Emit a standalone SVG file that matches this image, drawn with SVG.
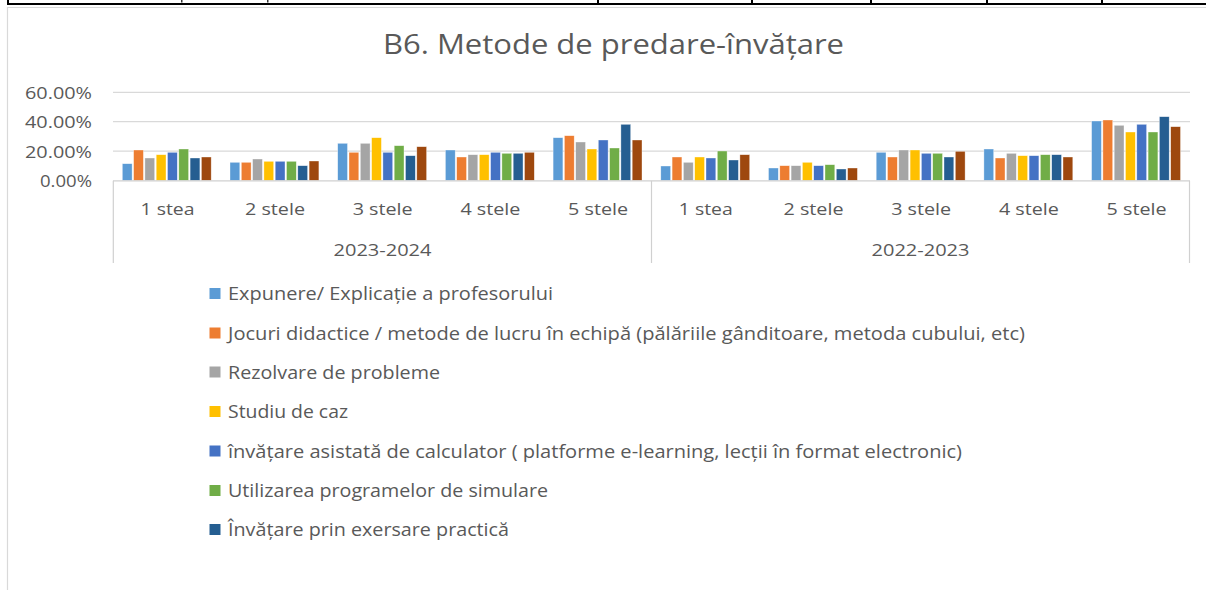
<svg xmlns="http://www.w3.org/2000/svg" width="1206" height="590" viewBox="0 0 1206 590">
<style>
text{font-family:"Open Sans","Noto Sans","Liberation Sans",sans-serif;fill:#595959}
.ttl{font-size:27px}
.ax{font-size:15.5px;text-anchor:end}
.cat{font-size:17px;text-anchor:middle}
.lg{font-size:17.5px}
.grid{stroke:#d9d9d9;stroke-width:1.3;fill:none}
.axis{stroke:#d0d0d0;stroke-width:1.2;fill:none}
.s1{fill:#5b9bd5}.s2{fill:#ed7d31}.s3{fill:#a5a5a5}.s4{fill:#ffc000}
.s5{fill:#4472c4}.s6{fill:#70ad47}.s7{fill:#255e91}.s8{fill:#9e480e}
.bars rect{stroke:#ffffff;stroke-opacity:0.6;stroke-width:0.6}
</style>
<rect x="0" y="0" width="1206" height="590" fill="#ffffff"/>
<g id="table-edge">
<rect x="7" y="3" width="1199" height="2" fill="#000"/>
<rect x="7" y="0" width="2" height="5" fill="#000"/>
<rect x="597" y="0" width="2" height="5" fill="#000"/>
<rect x="751" y="0" width="2" height="5" fill="#000"/>
<rect x="870" y="0" width="2" height="5" fill="#000"/>
<rect x="986" y="0" width="2" height="5" fill="#000"/>
<rect x="1101" y="0" width="2" height="5" fill="#000"/>
<rect x="181" y="0" width="1.5" height="2.5" fill="#333"/>
<rect x="267" y="0" width="1.5" height="2.5" fill="#333"/>
</g>
<g id="frame">
<path d="M7.5 590 V7.5 H1206" stroke="#d9d9d9" stroke-width="1.2" fill="none"/>
</g>
<g id="title">
<text class="ttl" x="383" y="54" textLength="461" lengthAdjust="spacingAndGlyphs">B6. Metode de predare-învățare</text>
</g>
<g id="gridlines">
<line class="grid" x1="113" y1="92.3" x2="1190" y2="92.3"/>
<line class="grid" x1="113" y1="121.7" x2="1190" y2="121.7"/>
<line class="grid" x1="113" y1="151.1" x2="1190" y2="151.1"/>
</g>
<g id="y-axis">
<text class="ax" x="92" y="99" textLength="67" lengthAdjust="spacingAndGlyphs">60.00%</text>
<text class="ax" x="92" y="128.4" textLength="67" lengthAdjust="spacingAndGlyphs">40.00%</text>
<text class="ax" x="92" y="157.8" textLength="67" lengthAdjust="spacingAndGlyphs">20.00%</text>
<text class="ax" x="92" y="187.2" textLength="52" lengthAdjust="spacingAndGlyphs">0.00%</text>
</g>
<g id="bars" class="bars">
<g transform="translate(122.3,0)">
<rect class="s1" x="0" y="163.7" width="9.8" height="16.8"/><rect class="s2" x="11.3" y="150" width="9.8" height="30.5"/><rect class="s3" x="22.6" y="158" width="9.8" height="22.5"/><rect class="s4" x="33.9" y="154.7" width="9.8" height="25.8"/><rect class="s5" x="45.2" y="152.3" width="9.8" height="28.2"/><rect class="s6" x="56.5" y="149" width="9.8" height="31.5"/><rect class="s7" x="67.8" y="158" width="9.8" height="22.5"/><rect class="s8" x="79.1" y="157" width="9.8" height="23.5"/>
</g>
<g transform="translate(230,0)">
<rect class="s1" x="0" y="162.3" width="9.8" height="18.2"/><rect class="s2" x="11.3" y="162.3" width="9.8" height="18.2"/><rect class="s3" x="22.6" y="159" width="9.8" height="21.5"/><rect class="s4" x="33.9" y="161.3" width="9.8" height="19.2"/><rect class="s5" x="45.2" y="161.3" width="9.8" height="19.2"/><rect class="s6" x="56.5" y="161.3" width="9.8" height="19.2"/><rect class="s7" x="67.8" y="165.7" width="9.8" height="14.8"/><rect class="s8" x="79.1" y="161" width="9.8" height="19.5"/>
</g>
<g transform="translate(337.7,0)">
<rect class="s1" x="0" y="143.3" width="9.8" height="37.2"/><rect class="s2" x="11.3" y="152.3" width="9.8" height="28.2"/><rect class="s3" x="22.6" y="143.3" width="9.8" height="37.2"/><rect class="s4" x="33.9" y="137.7" width="9.8" height="42.8"/><rect class="s5" x="45.2" y="152.3" width="9.8" height="28.2"/><rect class="s6" x="56.5" y="145.7" width="9.8" height="34.8"/><rect class="s7" x="67.8" y="155.7" width="9.8" height="24.8"/><rect class="s8" x="79.1" y="146.7" width="9.8" height="33.8"/>
</g>
<g transform="translate(445.4,0)">
<rect class="s1" x="0" y="150" width="9.8" height="30.5"/><rect class="s2" x="11.3" y="157" width="9.8" height="23.5"/><rect class="s3" x="22.6" y="154.7" width="9.8" height="25.8"/><rect class="s4" x="33.9" y="154.7" width="9.8" height="25.8"/><rect class="s5" x="45.2" y="152.3" width="9.8" height="28.2"/><rect class="s6" x="56.5" y="153.3" width="9.8" height="27.2"/><rect class="s7" x="67.8" y="153.3" width="9.8" height="27.2"/><rect class="s8" x="79.1" y="152.3" width="9.8" height="28.2"/>
</g>
<g transform="translate(553.1,0)">
<rect class="s1" x="0" y="137.7" width="9.8" height="42.8"/><rect class="s2" x="11.3" y="135.7" width="9.8" height="44.8"/><rect class="s3" x="22.6" y="142" width="9.8" height="38.5"/><rect class="s4" x="33.9" y="149" width="9.8" height="31.5"/><rect class="s5" x="45.2" y="140" width="9.8" height="40.5"/><rect class="s6" x="56.5" y="148" width="9.8" height="32.5"/><rect class="s7" x="67.8" y="124.3" width="9.8" height="56.2"/><rect class="s8" x="79.1" y="140" width="9.8" height="40.5"/>
</g>
<g transform="translate(660.8,0)">
<rect class="s1" x="0" y="166" width="9.8" height="14.5"/><rect class="s2" x="11.3" y="157" width="9.8" height="23.5"/><rect class="s3" x="22.6" y="162.3" width="9.8" height="18.2"/><rect class="s4" x="33.9" y="157" width="9.8" height="23.5"/><rect class="s5" x="45.2" y="158" width="9.8" height="22.5"/><rect class="s6" x="56.5" y="151" width="9.8" height="29.5"/><rect class="s7" x="67.8" y="160" width="9.8" height="20.5"/><rect class="s8" x="79.1" y="154.7" width="9.8" height="25.8"/>
</g>
<g transform="translate(768.5,0)">
<rect class="s1" x="0" y="168" width="9.8" height="12.5"/><rect class="s2" x="11.3" y="165.7" width="9.8" height="14.8"/><rect class="s3" x="22.6" y="165.7" width="9.8" height="14.8"/><rect class="s4" x="33.9" y="162.3" width="9.8" height="18.2"/><rect class="s5" x="45.2" y="165.7" width="9.8" height="14.8"/><rect class="s6" x="56.5" y="164.7" width="9.8" height="15.8"/><rect class="s7" x="67.8" y="169" width="9.8" height="11.5"/><rect class="s8" x="79.1" y="168" width="9.8" height="12.5"/>
</g>
<g transform="translate(876.2,0)">
<rect class="s1" x="0" y="152.3" width="9.8" height="28.2"/><rect class="s2" x="11.3" y="157" width="9.8" height="23.5"/><rect class="s3" x="22.6" y="150" width="9.8" height="30.5"/><rect class="s4" x="33.9" y="150" width="9.8" height="30.5"/><rect class="s5" x="45.2" y="153.3" width="9.8" height="27.2"/><rect class="s6" x="56.5" y="153.3" width="9.8" height="27.2"/><rect class="s7" x="67.8" y="157" width="9.8" height="23.5"/><rect class="s8" x="79.1" y="151.3" width="9.8" height="29.2"/>
</g>
<g transform="translate(983.9,0)">
<rect class="s1" x="0" y="149" width="9.8" height="31.5"/><rect class="s2" x="11.3" y="158" width="9.8" height="22.5"/><rect class="s3" x="22.6" y="153.3" width="9.8" height="27.2"/><rect class="s4" x="33.9" y="155.7" width="9.8" height="24.8"/><rect class="s5" x="45.2" y="155.7" width="9.8" height="24.8"/><rect class="s6" x="56.5" y="154.7" width="9.8" height="25.8"/><rect class="s7" x="67.8" y="154.7" width="9.8" height="25.8"/><rect class="s8" x="79.1" y="157" width="9.8" height="23.5"/>
</g>
<g transform="translate(1091.6,0)">
<rect class="s1" x="0" y="121" width="9.8" height="59.5"/><rect class="s2" x="11.3" y="120" width="9.8" height="60.5"/><rect class="s3" x="22.6" y="125.3" width="9.8" height="55.2"/><rect class="s4" x="33.9" y="132" width="9.8" height="48.5"/><rect class="s5" x="45.2" y="124.3" width="9.8" height="56.2"/><rect class="s6" x="56.5" y="132" width="9.8" height="48.5"/><rect class="s7" x="67.8" y="116.7" width="9.8" height="63.8"/><rect class="s8" x="79.1" y="126.7" width="9.8" height="53.8"/>
</g>
</g>
<g id="x-axis">
<line class="axis" x1="113" y1="180.8" x2="1190" y2="180.8"/>
<line class="axis" x1="113.3" y1="180.8" x2="113.3" y2="263"/>
<line class="axis" x1="651.5" y1="180.8" x2="651.5" y2="263"/>
<line class="axis" x1="1189.5" y1="180.8" x2="1189.5" y2="263"/>
<text class="cat" x="167.5" y="215" textLength="54" lengthAdjust="spacingAndGlyphs">1 stea</text>
<text class="cat" x="275" y="215" textLength="60" lengthAdjust="spacingAndGlyphs">2 stele</text>
<text class="cat" x="382.7" y="215" textLength="60" lengthAdjust="spacingAndGlyphs">3 stele</text>
<text class="cat" x="490.4" y="215" textLength="60" lengthAdjust="spacingAndGlyphs">4 stele</text>
<text class="cat" x="598.1" y="215" textLength="60" lengthAdjust="spacingAndGlyphs">5 stele</text>
<text class="cat" x="705.8" y="215" textLength="54" lengthAdjust="spacingAndGlyphs">1 stea</text>
<text class="cat" x="813.5" y="215" textLength="60" lengthAdjust="spacingAndGlyphs">2 stele</text>
<text class="cat" x="921.2" y="215" textLength="60" lengthAdjust="spacingAndGlyphs">3 stele</text>
<text class="cat" x="1028.9" y="215" textLength="60" lengthAdjust="spacingAndGlyphs">4 stele</text>
<text class="cat" x="1136.6" y="215" textLength="60" lengthAdjust="spacingAndGlyphs">5 stele</text>
<text class="cat" x="382.5" y="256" textLength="98" lengthAdjust="spacingAndGlyphs">2023-2024</text>
<text class="cat" x="920.5" y="256" textLength="98" lengthAdjust="spacingAndGlyphs">2022-2023</text>
</g>
<g id="legend">
<g id="leg1"><rect class="s1" x="209.5" y="288" width="11" height="11"/><text class="lg" x="228" y="300" textLength="325" lengthAdjust="spacingAndGlyphs">Expunere/ Explicație a profesorului</text></g>
<g id="leg2"><rect class="s2" x="209.5" y="327.5" width="11" height="11"/><text class="lg" x="228" y="339.5" textLength="797" lengthAdjust="spacingAndGlyphs">Jocuri didactice / metode de lucru în echipă (pălăriile gânditoare, metoda cubului, etc)</text></g>
<g id="leg3"><rect class="s3" x="209.5" y="366.5" width="11" height="11"/><text class="lg" x="228" y="378.5" textLength="212" lengthAdjust="spacingAndGlyphs">Rezolvare de probleme</text></g>
<g id="leg4"><rect class="s4" x="209.5" y="406" width="11" height="11"/><text class="lg" x="228" y="418" textLength="120" lengthAdjust="spacingAndGlyphs">Studiu de caz</text></g>
<g id="leg5"><rect class="s5" x="209.5" y="445.5" width="11" height="11"/><text class="lg" x="228" y="457.5" textLength="734" lengthAdjust="spacingAndGlyphs">învățare asistată de calculator ( platforme e-learning, lecții în format electronic)</text></g>
<g id="leg6"><rect class="s6" x="209.5" y="485" width="11" height="11"/><text class="lg" x="228" y="497" textLength="320" lengthAdjust="spacingAndGlyphs">Utilizarea programelor de simulare</text></g>
<g id="leg7"><rect class="s7" x="209.5" y="524" width="11" height="11"/><text class="lg" x="228" y="536" textLength="281" lengthAdjust="spacingAndGlyphs">Învățare prin exersare practică</text></g>
</g>
</svg>
